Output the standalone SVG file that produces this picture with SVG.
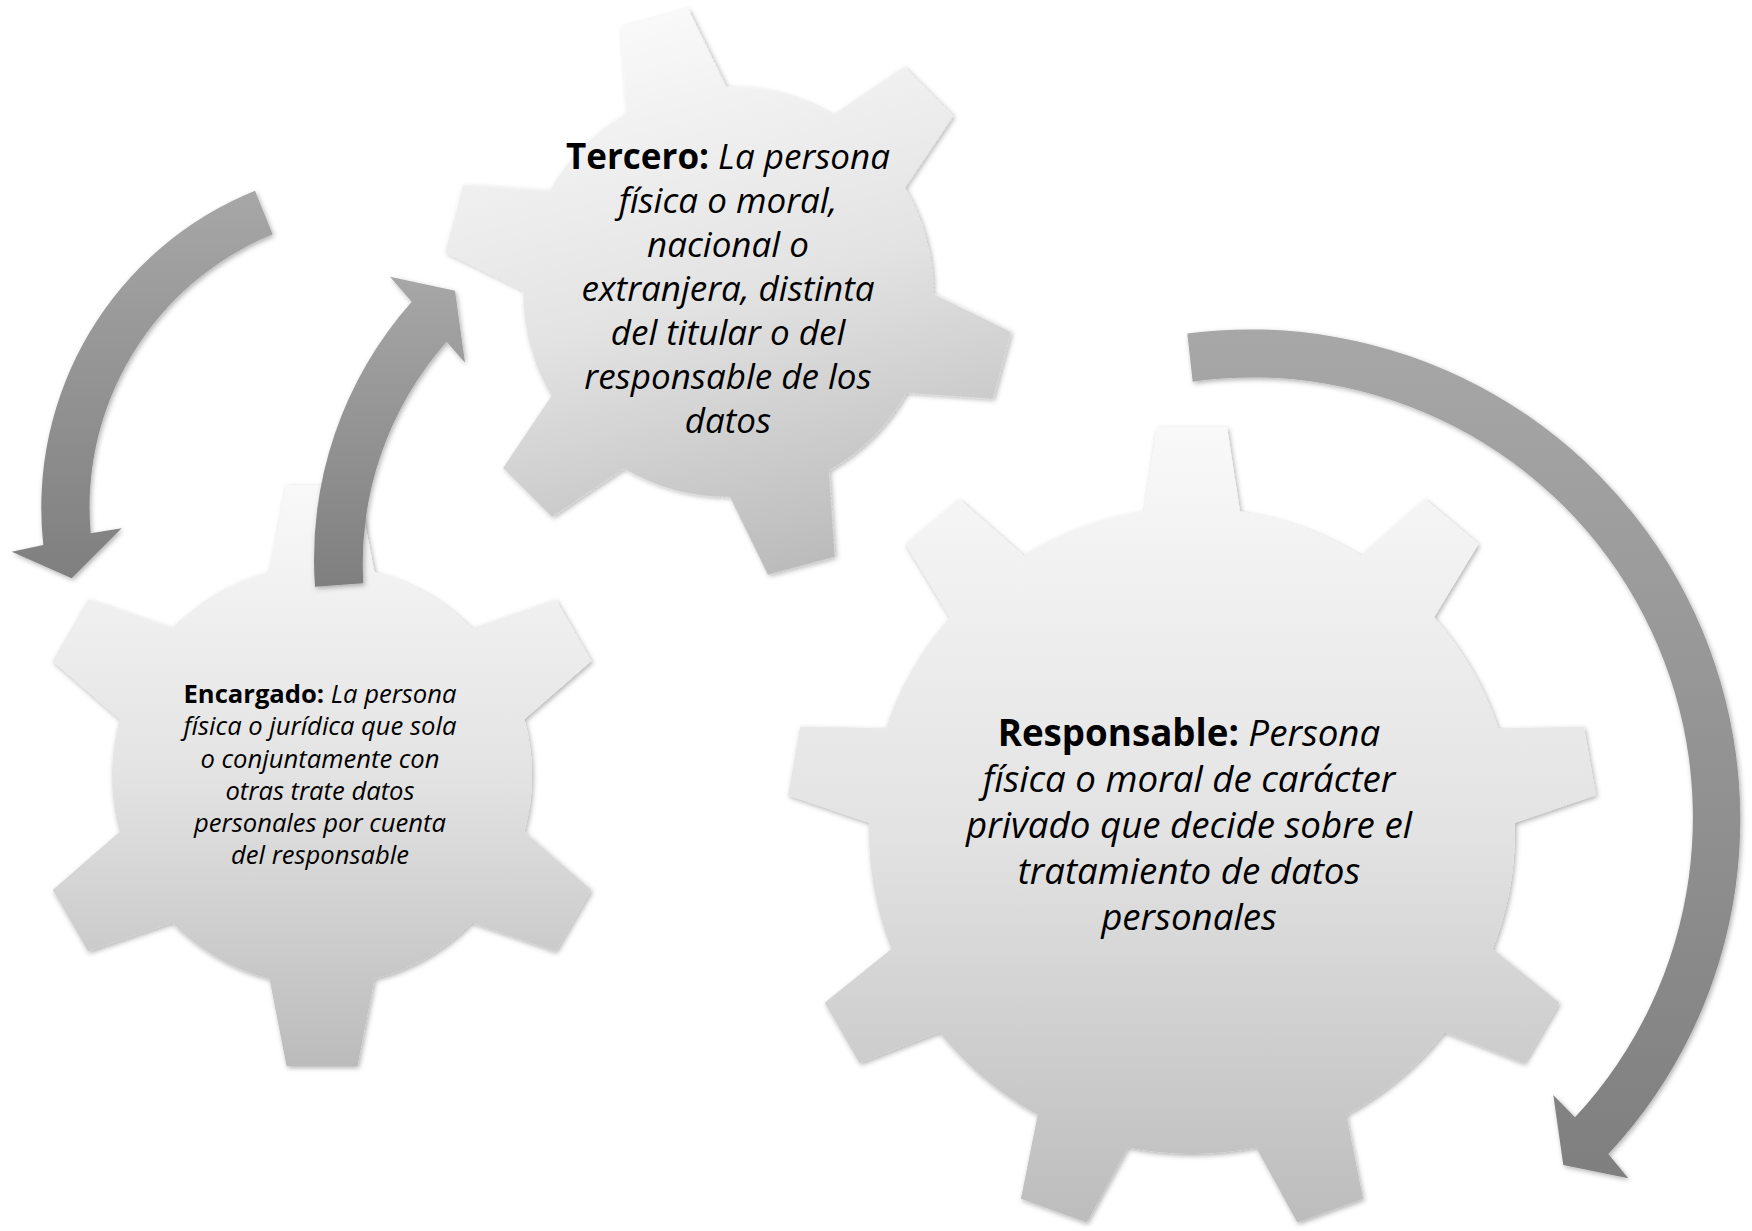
<svg xmlns="http://www.w3.org/2000/svg" width="1752" height="1231" viewBox="0 0 1752 1231">
<defs>
<style>
.t { font-family: "Open Sans", "Noto Sans", "Liberation Sans", sans-serif; fill: #000; text-anchor: middle; font-style: italic; }
.b { font-weight: bold; font-style: normal; }
.r { font-size: 36.7px; }
.m { font-size: 35px; }
.s { font-size: 25.6px; }
.arrow { fill: url(#arrowGrad); filter: url(#shadow); }
.gear { fill: url(#gearGrad); }
</style>
<linearGradient id="gearGrad" x1="0" y1="0" x2="0" y2="1">
<stop offset="0" stop-color="#f9f9f9"/>
<stop offset="0.5" stop-color="#e3e3e3"/>
<stop offset="1" stop-color="#bbbbbb"/>
</linearGradient>
<linearGradient id="arrowGrad" x1="0" y1="0" x2="0" y2="1">
<stop offset="0" stop-color="#a7a7a7"/>
<stop offset="1" stop-color="#7f7f7f"/>
</linearGradient>
<filter id="shadow" x="-10%" y="-10%" width="125%" height="125%">
<feDropShadow dx="1.5" dy="2" stdDeviation="2.5" flood-color="#000" flood-opacity="0.3"/>
</filter>
<polygon id="tooth9" points="300,-51 404,-35 404,35 300,51"/>
<polygon id="tooth6" points="185,-56.1 290.5,-35.5 290.5,35.5 185,56.1"/>
<clipPath id="clip9">
<circle r="323"/>
<use href="#tooth9" transform="rotate(-90)"/>
<use href="#tooth9" transform="rotate(-50)"/>
<use href="#tooth9" transform="rotate(-10)"/>
<use href="#tooth9" transform="rotate(30)"/>
<use href="#tooth9" transform="rotate(70)"/>
<use href="#tooth9" transform="rotate(110)"/>
<use href="#tooth9" transform="rotate(150)"/>
<use href="#tooth9" transform="rotate(190)"/>
<use href="#tooth9" transform="rotate(230)"/>
</clipPath>
<clipPath id="clip6">
<circle r="210"/>
<use href="#tooth6" transform="rotate(-90)"/>
<use href="#tooth6" transform="rotate(-30)"/>
<use href="#tooth6" transform="rotate(30)"/>
<use href="#tooth6" transform="rotate(90)"/>
<use href="#tooth6" transform="rotate(150)"/>
<use href="#tooth6" transform="rotate(210)"/>
</clipPath>
</defs>

<g id="gear-responsable">
<g transform="translate(1192 831)" filter="url(#shadow)">
<rect class="gear" x="-406" y="-406" width="812" height="812" clip-path="url(#clip9)"/>
</g>
<text class="t r" x="1189" y="745.5"><tspan class="b">Responsable:</tspan> Persona</text>
<text class="t r" x="1189" y="791.7">física o moral de carácter</text>
<text class="t r" x="1189" y="837.9">privado que decide sobre el</text>
<text class="t r" x="1189" y="884.1">tratamiento de datos</text>
<text class="t r" x="1189" y="930.3">personales</text>
</g>

<g id="gear-tercero">
<g transform="translate(728 292) rotate(-15) scale(0.976)" filter="url(#shadow)">
<rect class="gear" x="-292" y="-292" width="584" height="584" clip-path="url(#clip6)"/>
</g>
<text class="t m" x="728" y="169"><tspan class="b">Tercero:</tspan> La persona</text>
<text class="t m" x="728" y="213">física o moral,</text>
<text class="t m" x="728" y="257">nacional o</text>
<text class="t m" x="728" y="301">extranjera, distinta</text>
<text class="t m" x="728" y="345">del titular o del</text>
<text class="t m" x="728" y="389">responsable de los</text>
<text class="t m" x="728" y="433">datos</text>
</g>

<g id="gear-encargado">
<g transform="translate(322 775.5)" filter="url(#shadow)">
<rect class="gear" x="-292" y="-292" width="584" height="584" clip-path="url(#clip6)"/>
</g>
<text class="t s" x="320" y="703.2"><tspan class="b">Encargado:</tspan> La persona</text>
<text class="t s" x="320" y="735.4">física o jurídica que sola</text>
<text class="t s" x="320" y="767.6">o conjuntamente con</text>
<text class="t s" x="320" y="799.8">otras trate datos</text>
<text class="t s" x="320" y="832">personales por cuenta</text>
<text class="t s" x="320" y="864.2">del responsable</text>
</g>

<g id="connectors">
<path id="arrow-responsable" class="arrow" d="M1187.3,333.5 A490,490 0 0 1 1608.3,1154 L1628.3,1178.3 L1563.3,1165 L1553.3,1095 L1575,1117.3 A440,440 0 0 0 1192.7,381.7 Z"/>
<path id="arrow-encargado" class="arrow" d="M255,190.7 A342,342 0 0 0 43.3,545 L11.7,551.7 L71.7,578.3 L121.7,528.3 L90.7,533.3 A295,295 0 0 1 272.7,234.3 Z"/>
<path id="arrow-tercero" class="arrow" d="M315,586.7 A388,388 0 0 1 411.7,301.7 L390,276.7 L455,290.7 L465,362.7 L446.7,341.7 A335,335 0 0 0 363.3,583.3 Z"/>
</g>
</svg>
